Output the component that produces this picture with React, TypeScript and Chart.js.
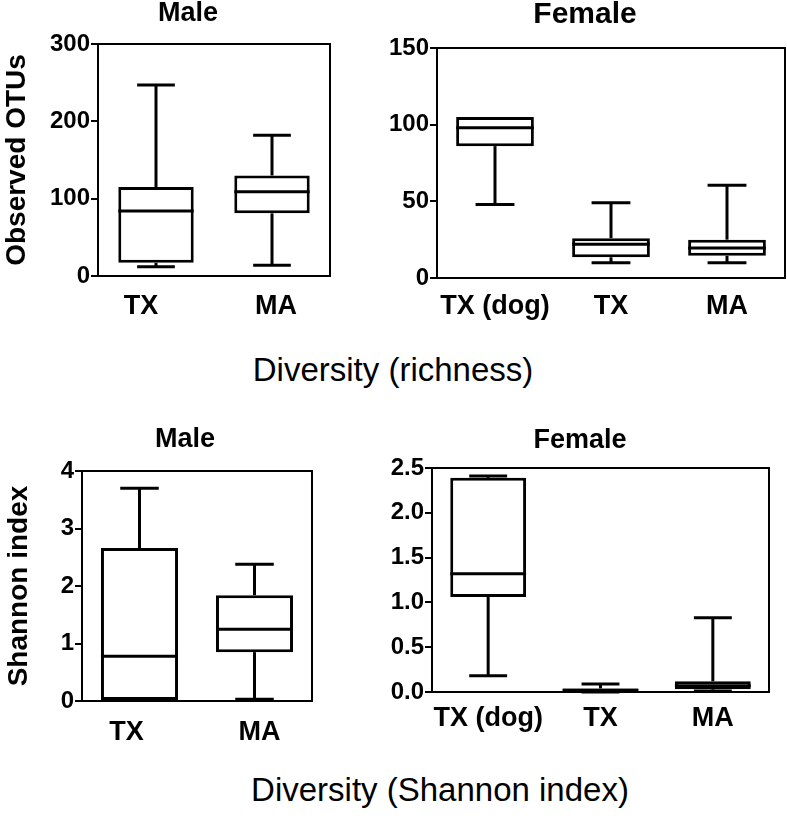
import React, { useEffect, useRef } from "react";
import { Chart, registerables } from "chart.js";

Chart.register(...registerables);

// ---------- Data: Diversity (richness), Observed OTUs ----------
const richMaleCategories = ["TX", "MA"];
const richMaleMin = [12, 14];
const richMaleQ1 = [17, 81];
const richMaleMedian = [84, 109];
const richMaleQ3 = [115, 130];
const richMaleMax = [247, 182];
const richMaleTicks = [0, 100, 200, 300];

const richFemaleCategories = ["TX (dog)", "TX", "MA"];
const richFemaleMin = [48, 10, 10];
const richFemaleQ1 = [86, 13.5, 14.5];
const richFemaleMedian = [98, 22, 19.5];
const richFemaleQ3 = [105, 26, 25];
const richFemaleMax = [105, 49, 60.5];
const richFemaleTicks = [0, 50, 100, 150];

// ---------- Data: Diversity (Shannon index) ----------
const shanMaleCategories = ["TX", "MA"];
const shanMaleMin = [0, 0.03];
const shanMaleQ1 = [0, 0.85];
const shanMaleMedian = [0.78, 1.25];
const shanMaleQ3 = [2.66, 1.84];
const shanMaleMax = [3.7, 2.38];
const shanMaleTicks = [0, 1, 2, 3, 4];

const shanFemaleCategories = ["TX (dog)", "TX", "MA"];
const shanFemaleMin = [0.18, 0, 0.01];
const shanFemaleQ1 = [1.06, 0.005, 0.03];
const shanFemaleMedian = [1.32, 0.02, 0.07];
const shanFemaleQ3 = [2.39, 0.04, 0.12];
const shanFemaleMax = [2.41, 0.09, 0.83];
const shanFemaleTicks = [0, 0.5, 1.0, 1.5, 2.0, 2.5];

const FONT = "'Liberation Sans', Arial, Helvetica, sans-serif";

const boxWhiskerPlugin = {
  id: "boxWhisker",
  afterDatasetsDraw(chart: any) {
    const { ctx, chartArea } = chart;
    const yScale = chart.scales.y;
    const ds: any = chart.data.datasets[0];
    const st = ds.stats;
    const meta = chart.getDatasetMeta(0);
    ctx.save();
    ctx.strokeStyle = "#000";
    ctx.lineCap = "butt";
    ctx.lineWidth = 3;
    const line = (x1: number, y1: number, x2: number, y2: number) => {
      ctx.beginPath();
      ctx.moveTo(x1, y1);
      ctx.lineTo(x2, y2);
      ctx.stroke();
    };
    meta.data.forEach((el: any, i: number) => {
      const { x, width } = el.getProps(["x", "width"], true);
      const pMin = yScale.getPixelForValue(st.min[i]);
      const pQ1 = yScale.getPixelForValue(st.q1[i]);
      const pMed = yScale.getPixelForValue(st.median[i]);
      const pQ3 = yScale.getPixelForValue(st.q3[i]);
      const pMax = yScale.getPixelForValue(st.max[i]);
      if (st.max[i] > st.q3[i]) {
        line(x, pQ3, x, pMax);
        line(x - width / 4, pMax, x + width / 4, pMax);
      }
      if (st.min[i] < st.q1[i]) {
        line(x, pQ1, x, pMin);
        line(x - width / 4, pMin, x + width / 4, pMin);
      }
      line(x - width / 2, pMed, x + width / 2, pMed);
    });
    ctx.lineWidth = 2;
    ctx.strokeRect(
      chartArea.left,
      chartArea.top,
      chartArea.right - chartArea.left,
      chartArea.bottom - chartArea.top
    );
    ctx.restore();
  },
};

type PanelSpec = {
  left: number;
  top: number;
  width: number;
  height: number;
  title: string;
  titleSize: number;
  titlePadTop: number;
  titlePadBottom: number;
  yTitle?: string;
  yTitlePad?: number;
  yWidth: number;
  rightWidth: number;
  xHeight: number;
  xPad: number;
  labelShift: number[];
  barPct: number;
  labels: string[];
  min: number[];
  q1: number[];
  median: number[];
  q3: number[];
  max: number[];
  ticks: number[];
  decimals: number;
};

function BoxPanel({ spec }: { spec: PanelSpec }) {
  const ref = useRef<HTMLCanvasElement | null>(null);
  useEffect(() => {
    if (!ref.current) return;
    const s = spec;
    const yMax = s.ticks[s.ticks.length - 1];
    const step = s.ticks[1] - s.ticks[0];
    const labelShiftPlugin = {
      id: "labelShift",
      beforeDraw(chart: any) {
        const sc = chart.scales.x;
        const items = sc.getLabelItems(chart.chartArea);
        items.forEach((it: any, i: number) => {
          if (it._shifted) return;
          it.options.translation[0] += s.labelShift[i] || 0;
          it._shifted = true;
        });
      },
    };
    const chart = new Chart(ref.current, {
      type: "bar",
      data: {
        labels: s.labels,
        datasets: [
          {
            data: s.labels.map((_, i) => [s.q1[i], s.q3[i]]),
            backgroundColor: "#ffffff",
            borderColor: "#000000",
            borderWidth: 3,
            borderSkipped: false,
            categoryPercentage: 1,
            barPercentage: s.barPct,
            yAxisID: "y",
            stats: { min: s.min, q1: s.q1, median: s.median, q3: s.q3, max: s.max },
          } as any,
        ],
      },
      options: {
        responsive: false,
        animation: false,
        devicePixelRatio: 1,
        events: [],
        layout: { padding: 0 },
        plugins: {
          legend: { display: false },
          tooltip: { enabled: false },
          title: {
            display: true,
            text: s.title,
            color: "#000",
            font: { family: FONT, size: s.titleSize, weight: "bold", lineHeight: 1 },
            padding: { top: s.titlePadTop, bottom: s.titlePadBottom },
          },
        },
        scales: {
          x: {
            type: "category",
            offset: true,
            grid: { display: false, drawTicks: false },
            border: { display: false },
            ticks: {
              color: "#000",
              padding: s.xPad,
              maxRotation: 0,
              autoSkip: false,
              font: { family: FONT, size: 27, weight: "bold", lineHeight: 1.2 },
            },
            afterFit: (sc: any) => {
              sc.height = s.xHeight;
            },
          },
          y: {
            type: "linear",
            position: "left",
            min: 0,
            max: yMax,
            grid: {
              drawOnChartArea: false,
              drawTicks: true,
              tickLength: 7,
              color: "#000",
              lineWidth: 2,
            },
            border: { display: true, color: "#000", width: 2 },
            ticks: {
              stepSize: step,
              color: "#000",
              padding: 1,
              font: { family: FONT, size: 24, weight: "bold" },
              callback: (v: any) => Number(v).toFixed(s.decimals),
            },
            title: {
              display: !!s.yTitle,
              text: s.yTitle || "",
              color: "#000",
              padding: { top: s.yTitlePad || 0, bottom: 0 },
              font: { family: FONT, size: 28, weight: "bold", lineHeight: 1.2 },
            },
            afterFit: (sc: any) => {
              sc.width = s.yWidth;
            },
          },
          yRight: {
            type: "linear",
            position: "right",
            display: true,
            min: 0,
            max: yMax,
            grid: { display: false, drawTicks: false },
            border: { display: false },
            ticks: { display: false },
            afterFit: (sc: any) => {
              sc.width = s.rightWidth;
            },
          },
        },
      } as any,
      plugins: [boxWhiskerPlugin, labelShiftPlugin],
    });
    return () => chart.destroy();
  }, []);
  return (
    <canvas
      ref={ref}
      width={spec.width}
      height={spec.height}
      style={{ position: "absolute", left: spec.left, top: spec.top, width: spec.width, height: spec.height }}
    />
  );
}

const panels: PanelSpec[] = [
  {
    left: 0, top: 0, width: 376, height: 335,
    title: "Male", titleSize: 27, titlePadTop: 0, titlePadBottom: 17,
    yTitle: "Observed OTUs", yTitlePad: 0,
    yWidth: 98, rightWidth: 46, xHeight: 59, xPad: 14, labelShift: [-15, 4], barPct: 0.65,
    labels: richMaleCategories, min: richMaleMin, q1: richMaleQ1, median: richMaleMedian,
    q3: richMaleQ3, max: richMaleMax, ticks: richMaleTicks, decimals: 0,
  },
  {
    left: 383, top: 0, width: 404, height: 335,
    title: "Female", titleSize: 30, titlePadTop: 0, titlePadBottom: 18,
    yWidth: 54, rightWidth: 2, xHeight: 57, xPad: 12, labelShift: [0, 0, 0], barPct: 0.67,
    labels: richFemaleCategories, min: richFemaleMin, q1: richFemaleQ1, median: richFemaleMedian,
    q3: richFemaleQ3, max: richFemaleMax, ticks: richFemaleTicks, decimals: 0,
  },
  {
    left: 0, top: 400, width: 370, height: 360,
    title: "Male", titleSize: 27, titlePadTop: 26.5, titlePadBottom: 17.5,
    yTitle: "Shannon index", yTitlePad: 2,
    yWidth: 82, rightWidth: 58, xHeight: 59, xPad: 15, labelShift: [-13, 5], barPct: 0.67,
    labels: shanMaleCategories, min: shanMaleMin, q1: shanMaleQ1, median: shanMaleMedian,
    q3: shanMaleQ3, max: shanMaleMax, ticks: shanMaleTicks, decimals: 0,
  },
  {
    left: 373, top: 400, width: 414, height: 360,
    title: "Female", titleSize: 27, titlePadTop: 27.5, titlePadBottom: 13.5,
    yWidth: 59, rightWidth: 18, xHeight: 68, xPad: 10, labelShift: [0, 0, 0], barPct: 0.675,
    labels: shanFemaleCategories, min: shanFemaleMin, q1: shanFemaleQ1, median: shanFemaleMedian,
    q3: shanFemaleQ3, max: shanFemaleMax, ticks: shanFemaleTicks, decimals: 1,
  },
];

const captionStyle = (x: number, y: number): React.CSSProperties => ({
  position: "absolute",
  left: x,
  top: y,
  transform: "translate(-50%, -50%)",
  fontFamily: FONT,
  fontSize: 33,
  lineHeight: 1,
  color: "#000",
  whiteSpace: "nowrap",
});

export default function App() {
  return (
    <div
      style={{
        position: "absolute",
        left: 0,
        top: 0,
        width: 787,
        height: 818,
        background: "#fff",
        overflow: "hidden",
      }}
    >
      {panels.map((p, i) => (
        <BoxPanel key={i} spec={p} />
      ))}
      <div style={captionStyle(393, 369)}>Diversity (richness)</div>
      <div style={captionStyle(440, 789)}>Diversity (Shannon index)</div>
    </div>
  );
}
